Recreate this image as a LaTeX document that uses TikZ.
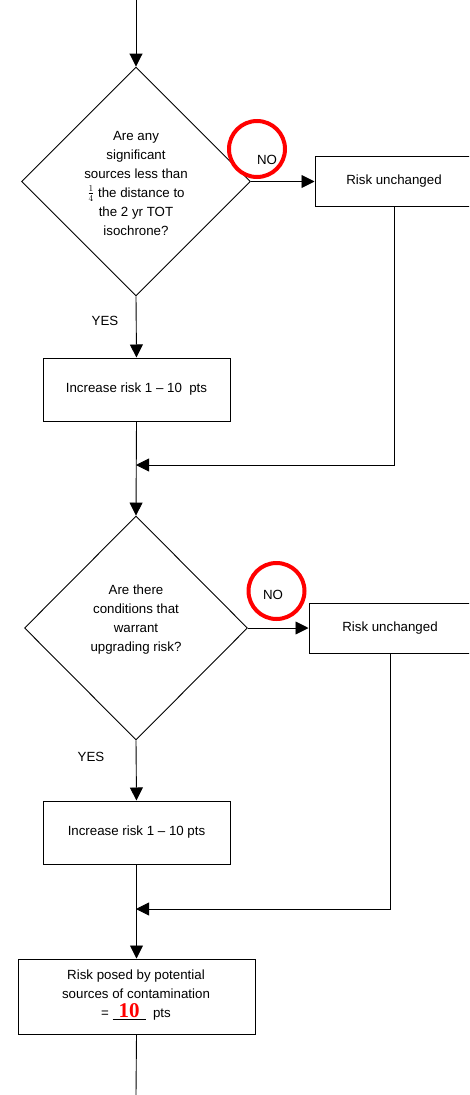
\documentclass[tikz,border=0pt]{standalone}
\usepackage{fontspec}
\setmainfont{Liberation Sans}
\newfontfamily\numfont{Liberation Serif}
\usetikzlibrary{shapes.geometric,arrows.meta}
\begin{document}
\begin{tikzpicture}[x=1pt,y=-1pt,
  font=\fontsize{13.3}{19}\selectfont,
  dia/.style={draw, line width=0.9pt, diamond, aspect=1, inner sep=0pt},
  box/.style={draw, line width=1pt, rectangle, inner sep=0pt, align=center},
  txt/.style={inner sep=0pt, align=center},
  arr/.style={line width=0.9pt, -{Triangle[length=13pt,width=13pt]}},
  ln/.style={line width=0.9pt},
  ring/.style={draw=red, line width=4pt}]
\useasboundingbox (0,0) rectangle (469,1095);
\clip (0,0) rectangle (469,1095);
\fill[white] (0,0) rectangle (469,1095);
% nodes
\coordinate (s) at (136,0);
\node[dia, minimum width=229, minimum height=229] (d1) at (136,181.5) {};
\node[txt] (t1) at (136,183) {Are any\\significant\\sources less than\\$\frac{1}{4}$ the distance to\\the 2 yr TOT\\isochrone?};
\node[box, minimum width=158, minimum height=50] (r1) at (394,181.5) {Risk unchanged};
\node[box, minimum width=187, minimum height=63] (b1) at (136.5,389.5) {Increase risk 1 -- 10\ \ pts};
\coordinate (m1) at (136,465);
\node[dia, minimum width=223, minimum height=224] (d2) at (136,628) {};
\node[txt] (t2) at (136,620) {Are there\\conditions that\\warrant\\upgrading risk?};
\node[box, minimum width=162, minimum height=50] (r2) at (390,628) {Risk unchanged};
\node[box, minimum width=187, minimum height=63] (b2) at (136.5,832.5) {Increase risk 1 -- 10 pts};
\coordinate (m2) at (136,909);
\node[box, minimum width=237, minimum height=75] (f) at (136.5,996.5) {};
\node[txt] (ft) at (136,995) {Risk posed by potential\\sources of contamination\\= \underline{\makebox[33pt]{\color{red}\numfont\bfseries\fontsize{21}{21}\selectfont 10}}\ \ pts};
\coordinate (e) at (136,1095);
% labels
\node[txt] (yes1) at (105,321) {YES};
\node[txt] (yes2) at (91,757) {YES};
\node[txt] (no1) at (267,160) {NO};
\node[txt] (no2) at (273,595) {NO};
\draw[ring] (257,149) circle (28);
\draw[ring] (276.5,591) circle (28);
% connectors
\draw[arr] (s) -- (d1.north);
\draw[arr] (d1.east) -- (r1.west);
\draw[arr] (d1.south) -- (b1.north);
\draw[arr] (r1.south) |- (m1);
\draw[arr] (b1.south) -- (d2.north);
\draw[arr] (d2.east) -- (r2.west);
\draw[arr] (d2.south) -- (b2.north);
\draw[arr] (r2.south) |- (m2);
\draw[arr] (b2.south) -- (f.north);
\draw[ln] (f.south) -- (e);
\end{tikzpicture}
\end{document}
